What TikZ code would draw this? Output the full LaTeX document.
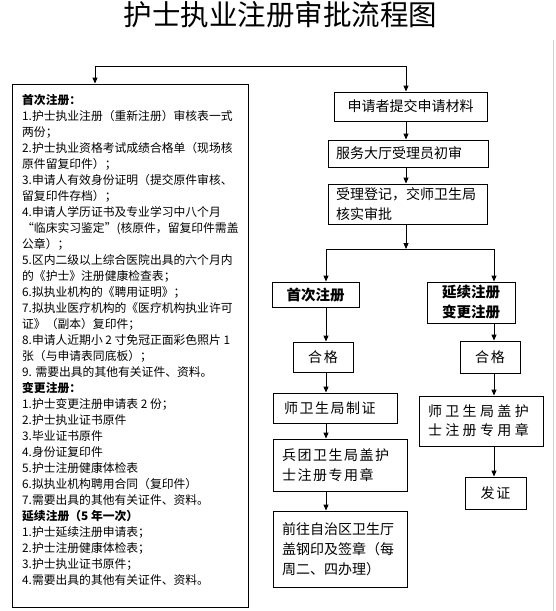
\documentclass[tikz,border=0pt]{standalone}
\usepackage{fontspec}
\setmainfont{Noto Sans CJK SC}
\newfontfamily\spfont[LetterSpace=11]{Noto Sans CJK SC}
\newfontfamily\wspfont[LetterSpace=24]{Noto Sans CJK SC}
\usetikzlibrary{arrows.meta,positioning}

\begin{document}
\begin{tikzpicture}[
  x=1pt, y=-1pt,
  box/.style={draw, line width=0.9pt, inner sep=0pt, font=\fontsize{14}{20}\selectfont},
  headbox/.style={box, font=\fontsize{14.5}{20}\selectfont\bfseries, align=center},
  spbox/.style={box, font={\spfont\fontsize{14}{20}\selectfont}},
  arr/.style={draw, line width=0.9pt, -{Triangle[length=6pt,width=5pt]}}
]
\useasboundingbox (0,0) rectangle (556,611);
\draw[gray!35, line width=1pt] (553,40) -- (553,611);

% Title
\node[font=\fontsize{28.5}{30}\selectfont] (title) at (280.5,15) {护士执业注册审批流程图};

% Column positions
\coordinate (colD) at (95,0);
\coordinate (colM) at (406,0);
\coordinate (colL) at (326,0);
\coordinate (colR) at (494,0);
\coordinate (split) at (406,66);
\coordinate (fork) at (406,249);

% Required documents
\node[box, minimum width=236pt, minimum height=523pt] (docs) at (130,345.5) {};
\node[anchor=north west, inner sep=0pt, align=left, font=\fontsize{11.8}{16}\selectfont] (doclist) at (22,94) {%
\textbf{首次注册：}\\
1.护士执业注册（重新注册）审核表一式\\
两份；\\
2.护士执业资格考试成绩合格单（现场核\\
原件留复印件）；\\
3.申请人有效身份证明（提交原件审核、\\
留复印件存档）；\\
4.申请人学历证书及专业学习中八个月\\
“临床实习鉴定”(核原件，留复印件需盖\\
公章）；\\
5.区内二级以上综合医院出具的六个月内\\
的《护士》注册健康检查表；\\
6.拟执业机构的《聘用证明》；\\
7.拟执业医疗机构的《医疗机构执业许可\\
证》（副本）复印件；\\
8.申请人近期小 2 寸免冠正面彩色照片 1\\
张（与申请表同底板）；\\
9. 需要出具的其他有关证件、资料。\\
\textbf{变更注册：}\\
1.护士变更注册申请表 2 份；\\
2.护士执业证书原件\\
3.毕业证书原件\\
4.身份证复印件\\
5.护士注册健康体检表\\
6.拟执业机构聘用合同（复印件）\\
7.需要出具的其他有关证件、资料。\\
\textbf{延续注册（5 年一次）}\\
1.护士延续注册申请表；\\
2.护士注册健康体检表；\\
3.护士执业证书原件；\\
4.需要出具的其他有关证件、资料。};

% Main flow
\node[box, minimum width=153pt, minimum height=29pt] (submit) at (410.5,106.5) {申请者提交申请材料};
\node[box, text width=144pt, inner xsep=8pt, minimum height=27pt, align=left] (intake) at (408,153.5) {服务大厅受理员初审};
\node[box, text width=143pt, inner xsep=8pt, minimum height=40pt, align=left] (accept) at (407.5,204) {受理登记，交师卫生局\\核实审批};

% First registration
\node[headbox, minimum width=87pt, minimum height=25pt] (first) at (315.5,294.5) {首次注册};
\node[spbox, minimum width=60pt, minimum height=30pt] (passL) at (323,357) {合格};
\node[spbox, text width=102pt, inner xsep=11pt, minimum height=30pt, align=left] (issue) at (335,408) {师卫生局制证};
\node[spbox, text width=116pt, inner xsep=9pt, minimum height=52pt, align=left] (stampL) at (340,465) {兵团卫生局盖护\\士注册专用章};
\node[box, text width=116pt, inner xsep=9pt, minimum height=76pt, align=left] (seal) at (340,549) {前往自治区卫生厅\\盖钢印及签章（每\\周二、四办理）};

% Renewal / change
\node[headbox, minimum width=88pt, minimum height=41pt] (renew) at (471,302.5) {延续注册\\变更注册};
\node[spbox, minimum width=60pt, minimum height=32pt] (passR) at (490,357) {合格};
\node[box, font={\wspfont\fontsize{14}{19}\selectfont}, text width=106pt, inner xsep=9pt, minimum height=50pt, align=left] (stampR) at (481,421) {师卫生局盖护\\士注册专用章};
\node[spbox, minimum width=61pt, minimum height=32pt] (cert) at (495.5,493) {发证};

% Connectors
\draw[arr] (split) -| (colD |- docs.north);
\draw[arr] (split) -- (colM |- submit.north);
\draw[arr] (colM |- submit.south) -- (colM |- intake.north);
\draw[arr] (colM |- intake.south) -- (colM |- accept.north);
\draw[arr] (colM |- accept.south) -- (fork);
\draw[arr] (fork) -| (colL |- first.north);
\draw[arr] (fork) -| (colR |- renew.north);
\draw[arr] (colL |- first.south) -- (colL |- passL.north);
\draw[arr] (colL |- passL.south) -- (colL |- issue.north);
\draw[arr] (colL |- issue.south) -- (colL |- stampL.north);
\draw[arr] (colL |- stampL.south) -- (colL |- seal.north);
\draw[arr] (colR |- renew.south) -- (colR |- passR.north);
\draw[arr] (colR |- passR.south) -- (colR |- stampR.north);
\draw[arr] (colR |- stampR.south) -- (colR |- cert.north);
\end{tikzpicture}
\end{document}
